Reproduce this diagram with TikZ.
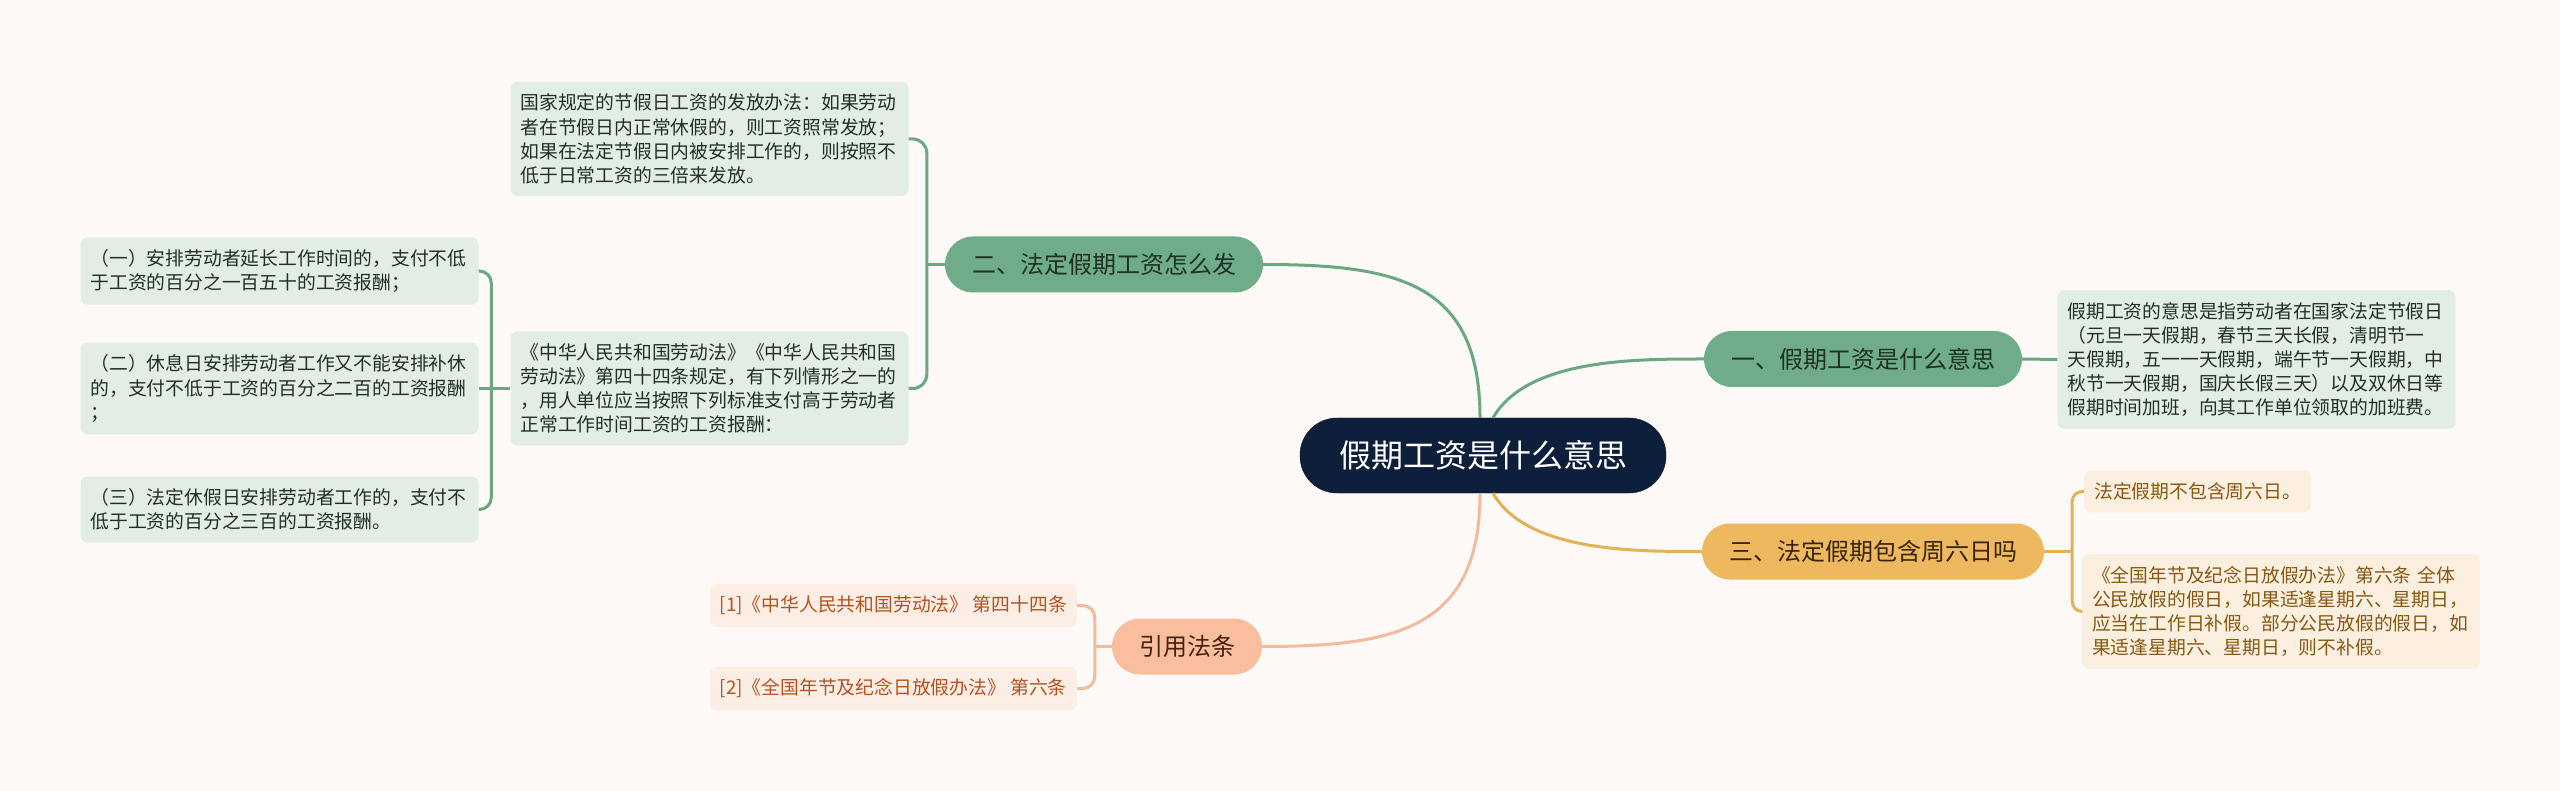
\documentclass[tikz,border=0pt]{standalone}
\usepackage{fontspec}
\newfontfamily\cjk{Noto Sans CJK SC}
\usetikzlibrary{positioning}

\definecolor{paper}{RGB}{252,249,247}
\definecolor{navy}{RGB}{13,31,58}
\definecolor{leaf}{RGB}{110,173,135}
\definecolor{leafline}{RGB}{107,167,129}
\definecolor{leafpale}{RGB}{226,238,229}
\definecolor{leafink}{RGB}{32,48,38}
\definecolor{gold}{RGB}{237,184,94}
\definecolor{goldline}{RGB}{226,178,86}
\definecolor{goldpale}{RGB}{251,240,223}
\definecolor{goldink}{RGB}{135,88,20}
\definecolor{peach}{RGB}{248,190,158}
\definecolor{peachline}{RGB}{243,187,158}
\definecolor{peachpale}{RGB}{252,237,229}
\definecolor{peachink}{RGB}{180,82,32}

\begin{document}
\begin{tikzpicture}[x=1pt, y=1pt,
    root/.style={fill=navy, draw=navy!70!black, text=white, rounded corners=37pt,
        minimum height=75pt, inner xsep=39pt, inner ysep=0pt, font=\cjk\fontsize{32}{38}\selectfont},
    topic/.style={rounded corners=28pt, minimum height=56pt, inner xsep=27pt, inner ysep=0pt,
        font=\cjk\fontsize{24}{29}\selectfont},
    greentopic/.style={topic, fill=leaf, text=leafink},
    goldtopic/.style={topic, fill=gold, text=goldink!40!black},
    peachtopic/.style={topic, fill=peach, text=peachink!40!black},
    note/.style={rounded corners=7pt, inner xsep=10pt, inner ysep=12pt, align=left,
        font=\cjk\fontsize{18.8}{24.2}\selectfont},
    wide/.style={text width=378pt},
    greennote/.style={note, fill=leafpale, text=leafink},
    goldnote/.style={note, fill=goldpale, text=goldink},
    peachnote/.style={note, fill=peachpale, text=peachink},
    greenline/.style={draw=leafline, line width=3pt},
    goldline/.style={draw=goldline, line width=3pt},
    peachline/.style={draw=peachline, line width=3pt}]

    % Background
    \fill[paper] (0,0) rectangle (2560,-791);

    % Central topic
    \node[root] (root) at (1483,-455.5) {假期工资是什么意思};

    % Main branches
    \node[greentopic] (n1) at (1863,-359) {一、假期工资是什么意思};
    \node[greentopic] (n2) at (1104,-264.5) {二、法定假期工资怎么发};
    \node[goldtopic] (n3) at (1873,-551.5) {三、法定假期包含周六日吗};
    \node[peachtopic] (n4) at (1187,-646.5) {引用法条};

    % Branch one
    \node[greennote, wide] (meanbox) at (2256.5,-359.5) {假期工资的意思是指劳动者在国家法定节假日\\（元旦一天假期，春节三天长假，清明节一\\天假期，五一一天假期，端午节一天假期，中\\秋节一天假期，国庆长假三天）以及双休日等\\假期时间加班，向其工作单位领取的加班费。};

    % Branch two
    \node[greennote, wide] (topbox) at (709.5,-139) {国家规定的节假日工资的发放办法：如果劳动\\者在节假日内正常休假的，则工资照常发放；\\如果在法定节假日内被安排工作的，则按照不\\低于日常工资的三倍来发放。};
    \node[greennote, wide] (lawbox) at (709.5,-388.5) {《中华人民共和国劳动法》《中华人民共和国\\劳动法》第四十四条规定，有下列情形之一的\\，用人单位应当按照下列标准支付高于劳动者\\正常工作时间工资的工资报酬：};
    \node[greennote, wide] (item1) at (279.5,-271) {（一）安排劳动者延长工作时间的，支付不低\\于工资的百分之一百五十的工资报酬；};
    \node[greennote, wide] (item2) at (279.5,-388.5) {（二）休息日安排劳动者工作又不能安排补休\\的，支付不低于工资的百分之二百的工资报酬\\；};
    \node[greennote, wide] (item3) at (279.5,-509.5) {（三）法定休假日安排劳动者工作的，支付不\\低于工资的百分之三百的工资报酬。};

    % Branch three
    \node[goldnote, anchor=west] (nosat) at (2084,-491.5) {法定假期不包含周六日。};
    \node[goldnote, wide] (festbox) at (2281,-611.5) {《全国年节及纪念日放假办法》第六条 全体\\公民放假的假日，如果适逢星期六、星期日，\\应当在工作日补假。部分公民放假的假日，如\\果适逢星期六、星期日，则不补假。};

    % References
    \node[peachnote, anchor=east] (ref1) at (1077,-605.5) {[1]《中华人民共和国劳动法》 第四十四条};
    \node[peachnote, anchor=east] (ref2) at (1077,-688.5) {[2]《全国年节及纪念日放假办法》 第六条};

    % Bracket joints
    \coordinate[left=18pt of n2.west] (j2);
    \coordinate[left=19pt of lawbox.west] (jlaw);
    \coordinate[right=28pt of n3.east] (j3);
    \coordinate[left=17pt of n4.west] (j4);

    % Curves from the centre
    \draw[greenline] ([xshift=-3pt]root.north) to[out=90, in=0, looseness=1.3] (n2.east);
    \draw[greenline] ([xshift=10pt]root.north) to[out=60, in=180, looseness=0.8] (n1.west);
    \draw[goldline] ([xshift=10pt]root.south) to[out=-60, in=180, looseness=0.8] (n3.west);
    \draw[peachline] ([xshift=-3pt]root.south) to[out=-90, in=0, looseness=1.3] (n4.east);

    % Brackets
    \draw[greenline] (n1.east) -- (meanbox.west);
    \draw[greenline] (n2.west) -- (j2);
    \draw[greenline, rounded corners=14pt] (topbox.east) -| (j2) |- (lawbox.east);
    \draw[greenline] (item2.east) -- (lawbox.west);
    \draw[greenline, rounded corners=12pt] (item1.east) -| (jlaw) |- (item3.east);
    \draw[goldline] (n3.east) -- (j3);
    \draw[goldline, rounded corners=10pt] (nosat.west) -| (j3) |- (festbox.west);
    \draw[peachline] (n4.west) -- (j4);
    \draw[peachline, rounded corners=12pt] (ref1.east) -| (j4) |- (ref2.east);
\end{tikzpicture}
\end{document}
